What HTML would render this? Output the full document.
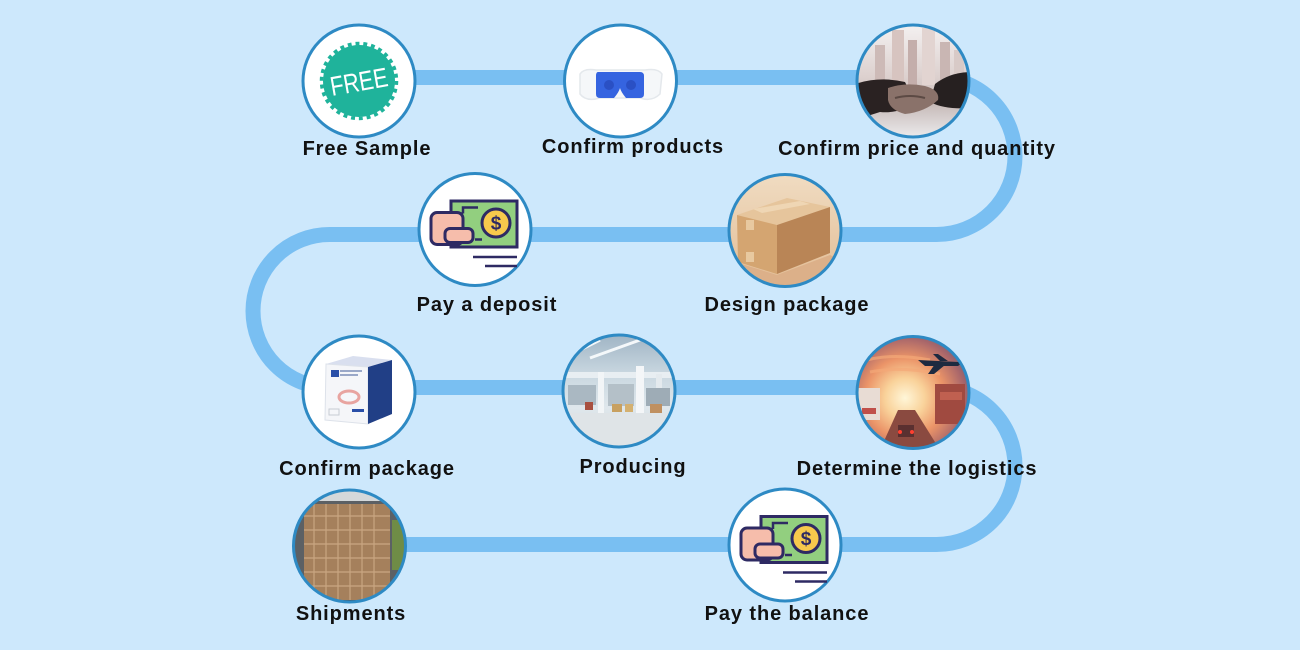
<!DOCTYPE html>
<html>
<head>
<meta charset="utf-8">
<style>
  html,body{margin:0;padding:0;background:#cde8fc;}
  svg{display:block;}
  .lbl{font-family:"Liberation Sans",Arial,sans-serif;font-weight:bold;font-size:20px;letter-spacing:0.9px;fill:#111;text-anchor:middle;}
</style>
</head>
<body>
<svg width="1300" height="650" viewBox="0 0 1300 650" xmlns="http://www.w3.org/2000/svg">
  <defs>
    <clipPath id="c3"><circle cx="913" cy="81" r="55"/></clipPath>
    <clipPath id="c5"><circle cx="785" cy="230.5" r="55"/></clipPath>
    <clipPath id="c7"><circle cx="619" cy="391" r="55"/></clipPath>
    <clipPath id="c8"><circle cx="913" cy="392.5" r="55"/></clipPath>
    <clipPath id="c9"><circle cx="349.5" cy="546" r="55"/></clipPath>
    <linearGradient id="gHand" x1="0" y1="0" x2="0" y2="1">
      <stop offset="0" stop-color="#f4f1f1"/>
      <stop offset="0.45" stop-color="#ddd1cf"/>
      <stop offset="0.7" stop-color="#c8bcba"/>
      <stop offset="1" stop-color="#eeeef0"/>
    </linearGradient>
    <linearGradient id="gBoxBg" x1="0" y1="0" x2="0" y2="1">
      <stop offset="0" stop-color="#f0dcc2"/>
      <stop offset="1" stop-color="#e2bc94"/>
    </linearGradient>
    <linearGradient id="gFac" x1="0" y1="0" x2="0" y2="1">
      <stop offset="0" stop-color="#9fb4c4"/>
      <stop offset="0.35" stop-color="#c9d7e0"/>
      <stop offset="0.65" stop-color="#dfe7ec"/>
      <stop offset="1" stop-color="#cfd7db"/>
    </linearGradient>
    <radialGradient id="gSun" cx="905" cy="398" r="80" gradientUnits="userSpaceOnUse">
      <stop offset="0" stop-color="#fff6d8"/>
      <stop offset="0.25" stop-color="#f9d29a"/>
      <stop offset="0.5" stop-color="#eb9468"/>
      <stop offset="0.75" stop-color="#a8666a"/>
      <stop offset="1" stop-color="#3f5a82"/>
    </radialGradient>
  </defs>

  <rect x="0" y="0" width="1300" height="650" fill="#cde8fc"/>

  <!-- connector path -->
  <path d="M359 77.5 H936.5 A78.5 78.5 0 0 1 936.5 234.5 H329.5 A76.5 76.5 0 0 0 329.5 387.5 H936.5 A78.5 78.5 0 0 1 936.5 544.5 H349.5"
        fill="none" stroke="#79bff2" stroke-width="15"/>

  <!-- 1 Free Sample -->
  <circle cx="359" cy="81" r="56" fill="#ffffff" stroke="#2e8ac4" stroke-width="3"/>
  <circle cx="359" cy="81" r="36" fill="#1fb39b"/>
  <circle cx="359" cy="81" r="37.5" fill="none" stroke="#1fb39b" stroke-width="3.5" stroke-dasharray="3.93 3.93"/>
  <text x="359" y="91" transform="rotate(-10 359 82)" font-family="Liberation Sans, Arial, sans-serif" font-size="27" fill="#ffffff" text-anchor="middle" textLength="58" lengthAdjust="spacingAndGlyphs">FREE</text>

  <!-- 2 Confirm products -->
  <circle cx="620.5" cy="81" r="56" fill="#ffffff" stroke="#2e8ac4" stroke-width="3"/>
  <path d="M580 74 Q584 68 596 70 L645 70 Q658 68 662 74 L660 94 Q652 102 640 98 L600 98 Q586 102 580 94 Z" fill="#f5f7f9" stroke="#e4e8ec" stroke-width="1.5"/>
  <path d="M598 72 Q596 72 596 76 L596 94 Q596 98 600 98 L614 98 Q619 92 620 88 Q621 92 626 98 L640 98 Q644 98 644 94 L644 76 Q644 72 640 72 Z" fill="#3564e0"/>
  <circle cx="609" cy="85" r="5" fill="#2a50c4"/>
  <circle cx="631" cy="85" r="5" fill="#2a50c4"/>

  <!-- 3 Confirm price and quantity (handshake photo) -->
  <g clip-path="url(#c3)">
    <rect x="855" y="24" width="116" height="116" fill="url(#gHand)"/>
    <rect x="875" y="45" width="10" height="40" fill="#cdbab7"/>
    <rect x="892" y="30" width="12" height="55" fill="#d7c4c0"/>
    <rect x="908" y="40" width="9" height="45" fill="#c4aeab"/>
    <rect x="922" y="28" width="13" height="57" fill="#e2d4d1"/>
    <rect x="940" y="42" width="10" height="43" fill="#c9b6b3"/>
    <rect x="954" y="50" width="10" height="35" fill="#d8cac7"/>
    <path d="M855 84 Q880 76 905 82 L915 102 Q900 114 880 112 L855 120 Z" fill="#2a2222"/>
    <path d="M972 72 Q950 72 935 84 L930 102 Q945 110 972 108 Z" fill="#262020"/>
    <path d="M888 88 Q905 82 925 86 Q940 90 938 100 Q925 112 905 114 Q890 110 888 100 Z" fill="#8a726a"/>
    <path d="M895 98 Q910 94 925 98" stroke="#5c4a44" stroke-width="2" fill="none"/>
  </g>
  <circle cx="913" cy="81" r="56" fill="none" stroke="#2e8ac4" stroke-width="3"/>

  <!-- 4 Pay a deposit -->
  <circle cx="475" cy="229.5" r="56" fill="#ffffff" stroke="#2e8ac4" stroke-width="3"/>
  <g transform="translate(475 229.5)">
    <rect x="-24" y="-28.5" width="66" height="46" fill="#92cf7f" stroke="#2e2a63" stroke-width="3"/>
    <path d="M-12 -16 V-22 H3 M-12 -16 H-17 V4" fill="none" stroke="#2e2a63" stroke-width="2.5"/>
    <path d="M0 10 H7" stroke="#2e2a63" stroke-width="2.5"/>
    <circle cx="21" cy="-6.5" r="14" fill="#f7c94c" stroke="#2e2a63" stroke-width="3"/>
    <text x="21" y="0" font-family="Liberation Sans, Arial, sans-serif" font-weight="bold" font-size="19" fill="#2e2a63" text-anchor="middle">$</text>
    <rect x="-44" y="-17" width="32" height="32" rx="6" fill="#f6bdab" stroke="#2e2a63" stroke-width="3"/>
    <rect x="-30" y="-1" width="28" height="14" rx="5" fill="#f6bdab" stroke="#2e2a63" stroke-width="3"/>
    <path d="M-2 27.5 H42 M10 36.5 H42" stroke="#2e2a63" stroke-width="2.5"/>
  </g>

  <!-- 5 Design package (box photo) -->
  <g clip-path="url(#c5)">
    <rect x="728" y="174" width="114" height="114" fill="url(#gBoxBg)"/>
    <path d="M735 262 L777 275 L830 255 L845 262 L845 290 L725 290 Z" fill="#dcb089"/>
    <path d="M737 215 L787 198 L830 207 L777 225 Z" fill="#e6c59c"/>
    <path d="M737 215 L777 225 L777 274 L738 262 Z" fill="#d4a571"/>
    <path d="M777 225 L830 207 L830 253 L777 274 Z" fill="#b98556"/>
    <path d="M753 209 L800 201 L810 204 L762 213 Z" fill="#efd6b4"/>
    <rect x="746" y="220" width="8" height="10" fill="#e8c9a0"/>
    <rect x="746" y="252" width="8" height="10" fill="#e8c9a0"/>
  </g>
  <circle cx="785" cy="230.5" r="56" fill="none" stroke="#2e8ac4" stroke-width="3"/>

  <!-- 6 Confirm package -->
  <circle cx="359" cy="392" r="56" fill="#ffffff" stroke="#2e8ac4" stroke-width="3"/>
  <path d="M326 364 L353 356 L392 360 L368 367 Z" fill="#d9dfef"/>
  <path d="M326 364 L368 367 L368 424 L325 420 Z" fill="#f5f6f9" stroke="#dde2ea" stroke-width="1"/>
  <path d="M368 367 L392 360 L392 414 L368 424 Z" fill="#213f86"/>
  <rect x="331" y="370" width="8" height="7" fill="#2a4fa8"/>
  <rect x="340" y="370" width="22" height="2" fill="#9aa8c8"/>
  <rect x="340" y="374" width="18" height="2" fill="#9aa8c8"/>
  <ellipse cx="349" cy="397" rx="10" ry="6" fill="none" stroke="#e8a4a0" stroke-width="3"/>
  <rect x="352" y="409" width="12" height="3" fill="#2a4fa8"/>
  <rect x="329" y="409" width="10" height="6" fill="none" stroke="#c8ccd4" stroke-width="1"/>

  <!-- 7 Producing (factory photo) -->
  <g clip-path="url(#c7)">
    <rect x="562" y="334" width="114" height="114" fill="url(#gFac)"/>
    <path d="M580 350 L600 340 M590 358 L640 340" stroke="#f4f8fa" stroke-width="3"/>
    <rect x="565" y="372" width="110" height="6" fill="#e8eef2"/>
    <rect x="598" y="372" width="6" height="42" fill="#f2f5f7"/>
    <rect x="636" y="366" width="8" height="48" fill="#f4f6f8"/>
    <rect x="656" y="374" width="6" height="38" fill="#e4eaee"/>
    <rect x="568" y="385" width="28" height="20" fill="#aab8c2"/>
    <rect x="608" y="384" width="26" height="22" fill="#b4c0c8"/>
    <rect x="646" y="388" width="24" height="18" fill="#9eacb6"/>
    <rect x="585" y="402" width="8" height="8" fill="#a85040"/>
    <rect x="612" y="404" width="10" height="8" fill="#c8a060"/>
    <rect x="625" y="404" width="8" height="8" fill="#d4b070"/>
    <rect x="650" y="404" width="12" height="9" fill="#c09060"/>
    <rect x="562" y="413" width="114" height="35" fill="#dfe4e7"/>
  </g>
  <circle cx="619" cy="391" r="56" fill="none" stroke="#2e8ac4" stroke-width="3"/>

  <!-- 8 Determine the logistics (sunset photo) -->
  <g clip-path="url(#c8)">
    <rect x="856" y="336" width="114" height="114" fill="url(#gSun)"/>
    <path d="M860 362 Q890 352 930 360 M870 372 Q900 366 940 374" stroke="#f4a878" stroke-width="3" fill="none" opacity="0.7"/>
    <rect x="858" y="388" width="22" height="32" fill="#e8dcd4"/>
    <rect x="862" y="408" width="14" height="6" fill="#c0504a"/>
    <rect x="935" y="384" width="30" height="40" fill="#a04a40"/>
    <rect x="940" y="392" width="22" height="8" fill="#c06050"/>
    <path d="M880 450 L898 410 L915 410 L940 450 Z" fill="#8a4a40"/>
    <rect x="898" y="425" width="16" height="12" fill="#5a3030"/>
    <circle cx="900" cy="432" r="2" fill="#ff4030"/>
    <circle cx="912" cy="432" r="2" fill="#ff4030"/>
    <path d="M918 360 L958 362 L962 358 L964 362 L958 366 L925 366 Z" fill="#1e2a40"/>
    <path d="M935 364 L928 374 L934 374 L945 365 Z M940 361 L933 354 L938 354 L948 361 Z" fill="#1e2a40"/>
  </g>
  <circle cx="913" cy="392.5" r="56" fill="none" stroke="#2e8ac4" stroke-width="3"/>

  <!-- 9 Shipments (container photo) -->
  <g clip-path="url(#c9)">
    <rect x="292" y="489" width="116" height="116" fill="#5c6064"/>
    <rect x="292" y="489" width="116" height="12" fill="#d4d8da"/>
    <rect x="304" y="504" width="86" height="96" fill="#a5805c"/>
    <g stroke="#c9a682" stroke-width="1.2">
      <path d="M304 516 H390 M304 530 H390 M304 544 H390 M304 558 H390 M304 572 H390 M304 586 H390"/>
      <path d="M314 504 V600 M326 504 V600 M338 504 V600 M350 504 V600 M362 504 V600 M374 504 V600"/>
    </g>
    <rect x="392" y="520" width="16" height="50" fill="#6f8c46"/>
    <rect x="300" y="600" width="100" height="6" fill="#4a4e52"/>
  </g>
  <circle cx="349.5" cy="546" r="56" fill="none" stroke="#2e8ac4" stroke-width="3"/>

  <!-- 10 Pay the balance -->
  <circle cx="785" cy="545" r="56" fill="#ffffff" stroke="#2e8ac4" stroke-width="3"/>
  <g transform="translate(785 545)">
    <rect x="-24" y="-28.5" width="66" height="46" fill="#92cf7f" stroke="#2e2a63" stroke-width="3"/>
    <path d="M-12 -16 V-22 H3 M-12 -16 H-17 V4" fill="none" stroke="#2e2a63" stroke-width="2.5"/>
    <path d="M0 10 H7" stroke="#2e2a63" stroke-width="2.5"/>
    <circle cx="21" cy="-6.5" r="14" fill="#f7c94c" stroke="#2e2a63" stroke-width="3"/>
    <text x="21" y="0" font-family="Liberation Sans, Arial, sans-serif" font-weight="bold" font-size="19" fill="#2e2a63" text-anchor="middle">$</text>
    <rect x="-44" y="-17" width="32" height="32" rx="6" fill="#f6bdab" stroke="#2e2a63" stroke-width="3"/>
    <rect x="-30" y="-1" width="28" height="14" rx="5" fill="#f6bdab" stroke="#2e2a63" stroke-width="3"/>
    <path d="M-2 27.5 H42 M10 36.5 H42" stroke="#2e2a63" stroke-width="2.5"/>
  </g>

  <!-- labels -->
  <text class="lbl" x="367" y="155">Free Sample</text>
  <text class="lbl" x="633" y="153">Confirm products</text>
  <text class="lbl" x="917" y="155">Confirm price and quantity</text>
  <text class="lbl" x="487" y="311">Pay a deposit</text>
  <text class="lbl" x="787" y="311">Design package</text>
  <text class="lbl" x="367" y="475">Confirm package</text>
  <text class="lbl" x="633" y="473">Producing</text>
  <text class="lbl" x="917" y="475">Determine the logistics</text>
  <text class="lbl" x="351" y="620">Shipments</text>
  <text class="lbl" x="787" y="620">Pay the balance</text>
</svg>
</body>
</html>
